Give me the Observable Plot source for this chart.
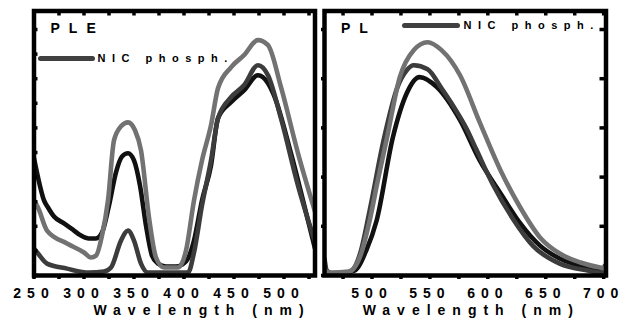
<!DOCTYPE html>
<html><head><meta charset="utf-8">
<script src="https://cdn.jsdelivr.net/npm/d3@7"></script>
<script src="https://cdn.jsdelivr.net/npm/@observablehq/plot@0.6"></script>
<style>
html,body{margin:0;padding:0;background:#fff;}
#wrap{position:relative;width:626px;height:322px;overflow:hidden;}
.panel{position:absolute;top:0;}
.panel svg{overflow:visible;}
g[aria-label="x-axis tick label"] text{letter-spacing:6px;}
g[aria-description="axis title"] text{letter-spacing:7px;}
g[aria-description="panel tag"] text{letter-spacing:9px;}
g[aria-description="legend text"] text{letter-spacing:6.5px;}
.swatch{position:absolute;height:5px;background:#404040;border-radius:3px;}
</style>
</head><body>
<div id="wrap">
  <div class="panel" id="left" style="left:0px"></div>
  <div class="panel" id="right" style="left:316px"></div>
  <div class="swatch" style="left:38px;top:55.5px;width:57px"></div>
  <div class="swatch" style="left:402px;top:22.5px;width:58px"></div>
</div>
<script>
// ---------- data ----------
const legendLabel = "NIC phosph.";
const xTitle = "Wavelength (nm)";
const pleTag = "PLE";
const plTag = "PL";
const pleTickLabels = [250, 300, 350, 400, 450, 500];
const plTickLabels = [500, 550, 600, 650, 700];

// PLE (excitation) spectra: wavelength (nm) and intensity (a.u.)
const pleGrayX  = [250,254,263,283,300,307,312,318,324,330,337,344,351,357,365,372,380,394,402,410,418,427,434,447,460,474,484,497,514,531];
const pleGrayY  = [29.2,26.5,17.8,12.9,9.5,7.6,8.3,15.9,29.2,51.9,57.2,58.7,55.7,48.1,22.7,7.6,3.8,3.8,10.2,29.2,44.3,57.6,71.6,79.5,84.1,89.8,87.9,72.0,47.0,25.0];
const pleDarkX  = [250,254,263,283,305,320,327,337,344,350,357,364,404,410,418,427,434,447,460,474,484,497,514,531];
const pleDarkY  = [11.0,9.1,5.3,3.4,1.9,2.3,3.8,14.0,17.8,14.0,5.3,1.9,1.9,9.5,27.3,44.3,60.2,68.2,72.7,80.3,76.5,60.2,34.8,13.5];
const pleBlackX = [250,254,260,264,270,280,290,297,305,312,318,325,332,338,344,350,356,362,368,374,382,392,398,404,410,418,427,434,447,460,474,484,490,507,524,531];
const pleBlackY = [45.1,37.9,29.2,26.5,23.1,20.5,17.8,15.9,14.8,14.8,17.0,27.3,39.8,45.8,47.0,44.3,34.8,19.7,8.3,5.3,4.2,4.2,4.9,7.2,14.0,29.2,42.4,60.2,66.3,70.8,76.5,73.5,68.9,47.0,21.6,11.0];

// PL (emission) spectra
const plGrayX  = [459,465,480,490,498,505,513,524,536,548,560,576,593,611,628,645,662,680,697,702];
const plGrayY  = [2.7,1.9,2.3,8.3,21.6,36.7,53.0,75.8,86.0,89.0,86.0,76.5,58.7,40.5,26.5,15.2,9.1,5.7,3.8,3.4];
const plDarkX  = [459,461,466,480,490,498,510,522,530,536,548,560,570,582,590,604,622,639,662,686,698,701];
const plDarkY  = [7.2,2.7,1.5,1.9,9.5,25.4,51.9,72.0,78.4,80.3,78.8,71.6,65.0,56.0,48.5,35.5,22.0,12.0,5.3,2.7,1.9,4.5];
const plBlackX = [459,470,485,495,504,518,530,541,556,576,593,611,628,645,662,691,702];
const plBlackY = [1.9,1.5,2.7,10.2,21.6,53.0,69.7,75.8,72.0,59.5,44.3,31.8,20.5,12.1,7.2,3.4,2.7];

const colors = {gray: "#727272", dark: "#3c3c3c", black: "#111111"};
const yDomain = [0.8, 100.8];
const yTickStep = 18.6;

function series(xs, ys) { return xs.map((x, i) => ({x, y: ys[i]})); }

const majorY = d3.range(yDomain[0], yDomain[1], yTickStep);
const minorY = d3.range(yDomain[0], yDomain[1], yTickStep / 2);

const font = {fontFamily: "'Liberation Sans', Arial, sans-serif", fontWeight: "bold", fontSize: "14px", background: "transparent", color: "#000"};

function panel({width, marginLeft, marginRight, xDomain, xTicks, xLabels, lines, tag, titleDx, legendDx, legendDy, rightTicks, leftTickSize}) {
  return Plot.plot({
    width, height: 322,
    marginLeft, marginRight, marginTop: 10.5, marginBottom: 47,
    style: font,
    x: {domain: xDomain, axis: null},
    y: {domain: yDomain, axis: null},
    marks: [
      ...lines.map(([xs, ys, c]) => Plot.line(series(xs, ys), {x: "x", y: "y", stroke: c, strokeWidth: 4.6, strokeLinejoin: "round", curve: "monotone-x", clip: true})),
      Plot.axisX({anchor: "bottom", ticks: xTicks, tickSize: 4, strokeWidth: 3.5, tickFormat: () => "", label: null}),
      Plot.axisX({anchor: "top", ticks: xTicks, tickSize: -4, strokeWidth: 3.5, tickFormat: () => "", label: null}),
      Plot.axisX({anchor: "bottom", ticks: xLabels, tickSize: 0, tickPadding: 13, tickFormat: d => String(d), label: null}),
      Plot.axisY({anchor: "left", ticks: rightTicks ? majorY : minorY, tickSize: leftTickSize, strokeWidth: 3.5, tickFormat: () => "", label: null}),
      ...(rightTicks ? [Plot.axisY({anchor: "right", ticks: majorY, tickSize: -7, strokeWidth: 3.5, tickFormat: () => "", label: null})] : []),
      Plot.frame({stroke: "#000", strokeWidth: 4.5}),
      Plot.text([xTitle], {frameAnchor: "bottom", dy: 35, dx: titleDx, lineAnchor: "middle", text: d => d, fontSize: 14, ariaDescription: "axis title"}),
      Plot.text([tag], {frameAnchor: "top-left", dx: 16.5, dy: 17.5, lineAnchor: "middle", textAnchor: "start", text: d => d, fontSize: 14, ariaDescription: "panel tag"}),
      Plot.text([legendLabel], {frameAnchor: "top-left", dx: legendDx, dy: legendDy, lineAnchor: "middle", textAnchor: "start", text: d => d, fontSize: 11, ariaDescription: "legend text"})
    ]
  });
}

document.getElementById("left").append(panel({
  width: 320, marginLeft: 33.5, marginRight: 5.5,
  xDomain: [250, 531], xTicks: d3.range(250, 531, 25), xLabels: pleTickLabels,
  lines: [[pleBlackX, pleBlackY, colors.black], [pleDarkX, pleDarkY, colors.dark], [pleGrayX, pleGrayY, colors.gray]],
  tag: pleTag, titleDx: 27.5, legendDx: 63.5, legendDy: 47.5, rightTicks: false, leftTickSize: -4
}));

document.getElementById("right").append(panel({
  width: 310, marginLeft: 8, marginRight: 20.5,
  xDomain: [459, 702], xTicks: d3.range(475, 701, 25), xLabels: plTickLabels,
  lines: [[plBlackX, plBlackY, colors.black], [plDarkX, plDarkY, colors.dark], [plGrayX, plGrayY, colors.gray]],
  tag: plTag, titleDx: 6, legendDx: 139, legendDy: 14.5, rightTicks: true, leftTickSize: 3
}));
</script>
</body></html>
